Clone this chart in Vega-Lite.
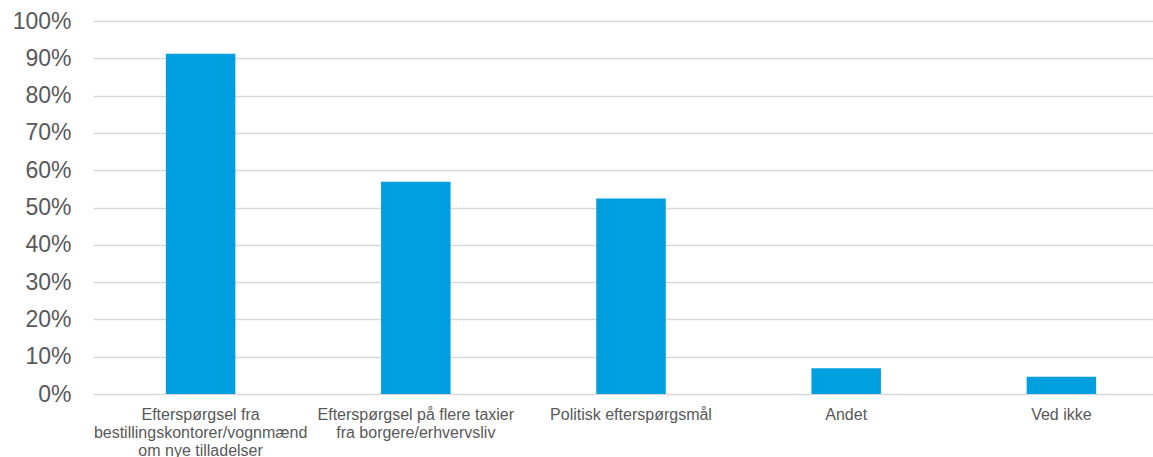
{
  "$schema": "https://vega.github.io/schema/vega-lite/v6.json",
  "width": 1060,
  "height": 373,
  "autosize": {"type": "none"},
  "padding": {"left": 93, "top": 21, "right": 0, "bottom": 63},
  "config": {"view": {"stroke": null}, "font": "Liberation Sans"},
  "data": {
    "values": [
      {"kategori": "Efterspørgsel fra\nbestillingskontorer/vognmænd\nom nye tilladelser", "andel": 0.912},
      {"kategori": "Efterspørgsel på flere taxier\nfra borgere/erhvervsliv", "andel": 0.569},
      {"kategori": "Politisk efterspørgsmål", "andel": 0.524},
      {"kategori": "Andet", "andel": 0.069},
      {"kategori": "Ved ikke", "andel": 0.046}
    ]
  },
  "mark": {"type": "bar", "color": "#009FDF"},
  "encoding": {
    "x": {
      "field": "kategori",
      "type": "nominal",
      "sort": null,
      "scale": {"range": [0, 1076], "paddingInner": 0.677, "paddingOuter": 0.3385},
      "axis": {
        "title": null,
        "domain": false,
        "ticks": false,
        "labelAngle": 0,
        "labelFontSize": 16,
        "labelColor": "#595959",
        "labelPadding": 12,
        "labelLineHeight": 18.3,
        "labelExpr": "split(datum.label, '\\n')",
        "labelLimit": 400
      }
    },
    "y": {
      "field": "andel",
      "type": "quantitative",
      "scale": {"domain": [0, 1], "nice": false},
      "axis": {
        "title": null,
        "values": [0, 0.1, 0.2, 0.3, 0.4, 0.5, 0.6, 0.7, 0.8, 0.9, 1],
        "format": ".0%",
        "domain": false,
        "ticks": false,
        "grid": true,
        "gridColor": "#D9D9D9",
        "gridWidth": 1.3,
        "labelFontSize": 23,
        "labelColor": "#595959",
        "labelPadding": 22
      }
    }
  }
}
